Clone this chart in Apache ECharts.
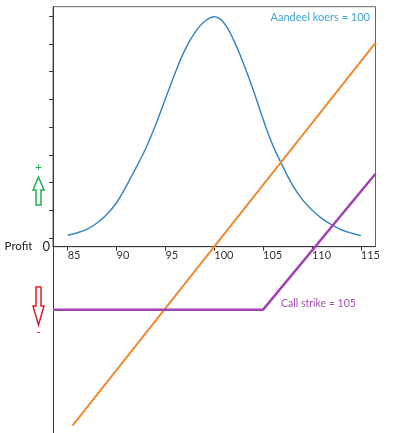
<!DOCTYPE html>
<html>
<head>
<meta charset="utf-8">
<script src="https://cdn.jsdelivr.net/npm/echarts@6/dist/echarts.min.js"></script>
<style>
    html, body {margin: 0; padding: 0; background: #fff;}
    #main {width: 399px; height: 433px;}
</style>
</head>
<body>
<div id="main"></div>
<script>
    // koers van het aandeel (x-as)
    var prices = [85, 86, 87, 88, 89, 90, 91, 92, 93, 94, 95, 96, 97, 98, 99, 100,
        101, 102, 103, 104, 105, 106, 107, 108, 109, 110, 111, 112, 113, 114, 115];
    // kansverdeling van de koers (blauwe curve)
    var density = [0.0011, 0.0020, 0.0033, 0.0055, 0.0086, 0.0128, 0.0188, 0.0254, 0.0324, 0.0408,
        0.0502, 0.0595, 0.0678, 0.0739, 0.0780, 0.0797,
        0.0775, 0.0712, 0.0628, 0.0533, 0.0428, 0.0334, 0.0260, 0.0192, 0.0140, 0.0102,
        0.0072, 0.0049, 0.0031, 0.0019, 0.0010];
    // winst aandeel (oranje)
    var stockX = [85.5, 116.5];
    var stockProfit = [-14.5, 16.5];
    // winst call optie (paars)
    var callX = [83.5, 105, 116.5];
    var callProfit = [-5.1, -5.1, 5.9];
    // tick labels
    var priceTicks = [85, 90, 95, 100, 105, 110, 115];
    var densityTicks = [0, 0.01, 0.02, 0.03, 0.04, 0.05, 0.06, 0.07, 0.08];

    function zip(xs, ys) {
        return xs.map(function (x, i) {
            return [x, ys[i]];
        });
    }

    var axisColor = '#3a3a3a';

    (function (charts) {
        charts.setOption({
            animation: false,
            textStyle: {fontFamily: 'Lato'},
            grid: [
                {left: 53, right: 23.5, top: 6.7, bottom: 0, show: false, outerBoundsMode: 'none'},
                {left: 53, right: 23.5, top: 6.7, height: 240, show: true, borderColor: '#666', borderWidth: 1, outerBoundsMode: 'none'}
            ],
            xAxis: [
                {gridIndex: 0, type: 'value', min: 83.5, max: 116.5, show: false},
                {
                    gridIndex: 1, type: 'value', min: 83.5, max: 116.5, position: 'bottom',
                    axisLine: {show: true, onZero: false, lineStyle: {color: axisColor, width: 1}},
                    axisTick: {show: true, customValues: priceTicks, length: 4, lineStyle: {color: axisColor}},
                    axisLabel: {customValues: priceTicks, align: 'left', margin: 3, color: '#333', fontSize: 11},
                    splitLine: {show: false}
                }
            ],
            yAxis: [
                {
                    gridIndex: 0, type: 'value', min: -15.09, max: 19.43,
                    axisLine: {show: true, onZero: false, lineStyle: {color: axisColor, width: 1}},
                    axisTick: {show: false},
                    splitLine: {show: false},
                    axisLabel: {
                        customValues: [0], margin: 3,
                        formatter: function () {
                            return '{p|Profit}{z|0}';
                        },
                        rich: {
                            p: {fontSize: 11.5, color: '#222', padding: [0, 10, 0, 0]},
                            z: {fontSize: 13, color: '#222'}
                        }
                    }
                },
                {
                    gridIndex: 1, type: 'value', min: -0.00302, max: 0.08334,
                    axisLine: {show: false},
                    axisTick: {show: true, customValues: densityTicks, length: 4, lineStyle: {color: axisColor}},
                    axisLabel: {show: false},
                    splitLine: {show: false}
                }
            ],
            series: [
                {
                    name: 'koers', type: 'line', xAxisIndex: 1, yAxisIndex: 1,
                    smooth: 0.4, showSymbol: false,
                    lineStyle: {color: '#3b87bf', width: 1.5},
                    data: zip(prices, density)
                },
                {
                    name: 'aandeel', type: 'line', xAxisIndex: 0, yAxisIndex: 0,
                    showSymbol: false,
                    lineStyle: {color: '#ef8a30', width: 2},
                    data: zip(stockX, stockProfit)
                },
                {
                    name: 'call', type: 'line', xAxisIndex: 0, yAxisIndex: 0,
                    showSymbol: false,
                    lineStyle: {color: '#a243b2', width: 2.5},
                    data: zip(callX, callProfit)
                }
            ],
            graphic: [
                {
                    type: 'text', x: 370, y: 17,
                    style: {text: 'Aandeel koers = 100', fill: '#3fa6d2', fontSize: 11, fontFamily: 'Lato', align: 'right', verticalAlign: 'middle'}
                },
                {
                    type: 'text', x: 281, y: 304,
                    style: {text: 'Call strike = 105', fill: '#a64db3', fontSize: 10.5, fontFamily: 'Lato', align: 'left', verticalAlign: 'middle'}
                },
                // groene pijl omhoog
                {
                    type: 'polygon',
                    shape: {points: [[38.5, 177], [44, 190], [41, 190], [41, 205], [36, 205], [36, 190], [33, 190]]},
                    style: {fill: '#fff', stroke: '#22b14c', lineWidth: 1.5}
                },
                {
                    type: 'text', x: 38.5, y: 167,
                    style: {text: '+', fill: '#22b14c', fontSize: 12, fontFamily: 'Lato', align: 'center', verticalAlign: 'middle'}
                },
                // rode pijl omlaag
                {
                    type: 'polygon',
                    shape: {points: [[36, 287], [41, 287], [41, 306], [44, 306], [38.5, 325], [33, 306], [36, 306]]},
                    style: {fill: '#fff', stroke: '#d8222a', lineWidth: 1.5}
                },
                {
                    type: 'text', x: 38.5, y: 332,
                    style: {text: '-', fill: '#d8222a', fontSize: 12, fontFamily: 'Lato', align: 'center', verticalAlign: 'middle'}
                }
            ]
        });
    })(echarts.init(document.getElementById('main')));
</script>
</body>
</html>
